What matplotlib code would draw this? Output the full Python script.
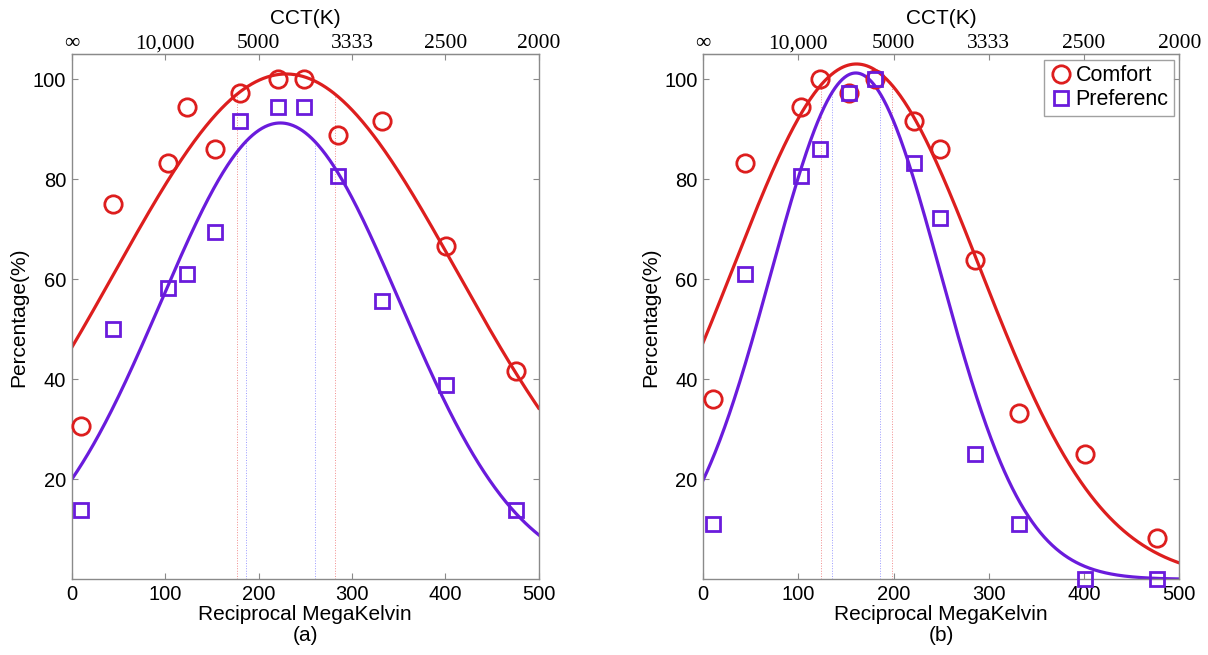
import numpy as np
import matplotlib
matplotlib.use("Agg")
import matplotlib.pyplot as plt

# Reciprocal megakelvin of the tested light sources
mired = [10, 44, 103, 123, 153, 180, 221, 249, 285, 332, 401, 476]

# Panel (a)
comfort_a = [30.6, 75.0, 83.3, 94.4, 86.1, 97.2, 100.0, 100.0, 88.9, 91.7, 66.7, 41.7]
prefer_a = [13.9, 50.0, 58.3, 61.1, 69.4, 91.7, 94.4, 94.4, 80.6, 55.6, 38.9, 13.9]
# Panel (b)
comfort_b = [36.1, 83.3, 94.4, 100.0, 97.2, 100.0, 91.7, 86.1, 63.9, 33.3, 25.0, 8.3]
prefer_b = [11.1, 61.1, 80.6, 86.1, 97.2, 100.0, 83.3, 72.2, 25.0, 11.1, 0.0, 0.0]

# Gaussian fit parameters (amplitude, centre, width) of each curve
fit_comfort_a = (101.1, 229.5, 260.0)
fit_prefer_a = (91.3, 223.4, 181.3)
fit_comfort_b = (103.1, 161.0, 182.5)
fit_prefer_b = (101.3, 160.3, 125.5)

# Fraction of the peak that marks the optimal range
peak_fraction = 0.96

x_ticks = [0, 100, 200, 300, 400, 500]
cct_labels = ["\u221e", "10,000", "5000", "3333", "2500", "2000"]
y_ticks = [20, 40, 60, 80, 100]

RED = "#DD1E1E"
PURPLE = "#6A1BDC"
GRAY = "#8a8a8a"
SANS = "Liberation Sans"
SERIF = "Liberation Serif"


def gauss(x, a, mu, c):
    return a * np.exp(-((x - mu) / c) ** 2)


def draw_panel(ax, comfort, prefer, fit_c, fit_p, tag, legend=False):
    xs = np.linspace(0, 500, 600)
    # optimal-range markers: where each fit falls to peak_fraction of its peak
    half = np.sqrt(-np.log(peak_fraction))
    for fit, col in ((fit_c, "#f08080"), (fit_p, "#9090ff")):
        a, mu, c = fit
        for xv in (mu - half * c, mu + half * c):
            ax.plot([xv, xv], [0, gauss(xv, *fit)], ls=":", lw=0.7,
                    color=col, alpha=0.9, zorder=1)
    ax.plot(xs, gauss(xs, *fit_c), color=RED, lw=2.3, zorder=2)
    ax.plot(xs, gauss(xs, *fit_p), color=PURPLE, lw=2.3, zorder=2)
    ax.plot(mired, comfort, "o", ms=12.5, mfc="none", mec=RED, mew=2.0,
            label="Comfort", clip_on=False, zorder=3)
    ax.plot(mired, prefer, "s", ms=9.5, mfc="none", mec=PURPLE, mew=2.0,
            label="Preferenc", clip_on=False, zorder=3)

    ax.set_xlim(0, 500)
    ax.set_ylim(0, 105)
    ax.set_xticks(x_ticks)
    ax.set_yticks(y_ticks)
    for s in ax.spines.values():
        s.set_color(GRAY)
        s.set_linewidth(1.0)
    ax.tick_params(direction="in", length=4, color=GRAY, right=True,
                   labelsize=14.5, pad=4)
    for lab in ax.get_xticklabels() + ax.get_yticklabels():
        lab.set_fontfamily(SANS)
    ax.set_ylabel("Percentage(%)", fontsize=15, family=SANS, labelpad=3)
    ax.set_xlabel("Reciprocal MegaKelvin\n" + tag, fontsize=15, family=SANS,
                  labelpad=1, linespacing=1.15)

    top = ax.secondary_xaxis("top")
    top.set_xticks(x_ticks)
    top.set_xticklabels(cct_labels, fontsize=15.5, family=SERIF)
    top.tick_params(direction="in", length=4, color=GRAY, pad=1)
    top.spines["top"].set_color(GRAY)
    top.set_xlabel("CCT(K)", fontsize=15, family=SANS, labelpad=7)

    if legend:
        leg = ax.legend(loc="upper right", prop={"family": SANS, "size": 15.5},
                        frameon=True, fancybox=False, borderpad=0.25,
                        labelspacing=0.15, handletextpad=0.2,
                        handlelength=1.0, borderaxespad=0.25)
        leg.get_frame().set_edgecolor(GRAY)
        leg.get_frame().set_linewidth(1.0)


fig = plt.figure(figsize=(12.08, 6.55), dpi=100)
ax_a = fig.add_axes([0.0594, 0.1156, 0.3865, 0.8012])
ax_b = fig.add_axes([0.5820, 0.1156, 0.3943, 0.8012])

draw_panel(ax_a, comfort_a, prefer_a, fit_comfort_a, fit_prefer_a, "(a)")
draw_panel(ax_b, comfort_b, prefer_b, fit_comfort_b, fit_prefer_b, "(b)", legend=True)

fig.savefig("out.png", dpi=100)
